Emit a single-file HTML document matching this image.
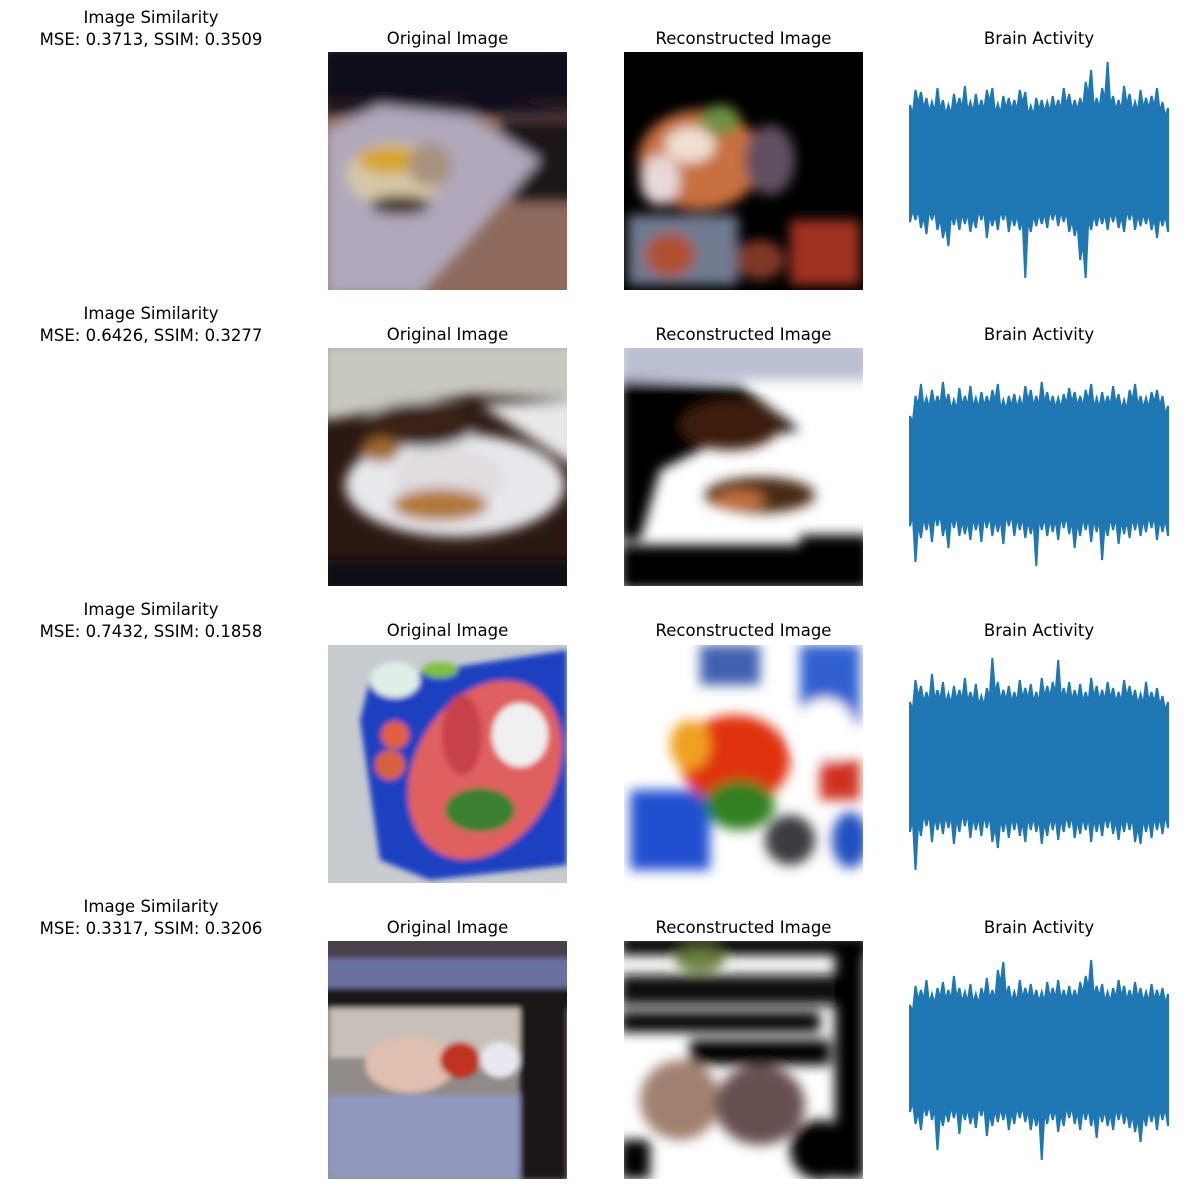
<!DOCTYPE html>
<html><head><meta charset="utf-8">
<style>
body{margin:0;background:#fff;}
#root{position:relative;width:1189px;height:1189px;font-family:"DejaVu Sans","Liberation Sans",sans-serif;color:#000;}
.t{position:absolute;font-size:16.5px;text-align:center;white-space:nowrap;line-height:22px;}
svg{position:absolute;left:0;top:0;}
</style></head>
<body>
<div id="root">
<svg id="svg" width="1189" height="1189">
<defs>
<filter id="b6" x="-20%" y="-20%" width="140%" height="140%"><feGaussianBlur stdDeviation="6"/></filter>
<filter id="b3"><feGaussianBlur stdDeviation="3"/></filter>
<clipPath id="c1"><rect x="328" y="52" width="239" height="238"/></clipPath>
<clipPath id="c2"><rect x="624" y="52" width="239" height="238"/></clipPath>
<clipPath id="c3"><rect x="328" y="348" width="239" height="238"/></clipPath>
<clipPath id="c4"><rect x="624" y="348" width="239" height="238"/></clipPath>
<clipPath id="c5"><rect x="328" y="645" width="239" height="238"/></clipPath>
<clipPath id="c6"><rect x="624" y="645" width="239" height="238"/></clipPath>
<clipPath id="c7"><rect x="328" y="941" width="239" height="238"/></clipPath>
<clipPath id="c8"><rect x="624" y="941" width="239" height="238"/></clipPath>
</defs>
<!-- Row 1 original -->
<g clip-path="url(#c1)">
<rect x="328" y="52" width="239" height="238" fill="#8f6a5c"/>
<g filter="url(#b6)">
<rect x="320" y="45" width="260" height="70" fill="#0a0d1c"/>
<polygon points="320,110 450,95 580,110 580,100 320,100" fill="#2a1c20"/>
<rect x="500" y="120" width="80" height="80" fill="#1a1214"/>
<polygon points="325,130 380,105 470,115 540,160 470,240 420,295 325,295" fill="#b0a8ba"/>
<ellipse cx="395" cy="175" rx="48" ry="32" fill="#d8c8a8"/>
<ellipse cx="390" cy="160" rx="32" ry="14" fill="#d6a62a"/>
<ellipse cx="430" cy="165" rx="22" ry="22" fill="#a89280"/>
<ellipse cx="400" cy="205" rx="30" ry="10" fill="#4a3a30"/>
</g></g>
<!-- Row 1 recon -->
<g clip-path="url(#c2)">
<rect x="624" y="52" width="239" height="238" fill="#000"/>
<g filter="url(#b6)">
<ellipse cx="700" cy="160" rx="62" ry="50" fill="#c87040"/>
<ellipse cx="690" cy="145" rx="25" ry="18" fill="#f0e0d0"/>
<ellipse cx="720" cy="120" rx="20" ry="15" fill="#709040"/>
<ellipse cx="660" cy="180" rx="20" ry="25" fill="#e8d8d8"/>
<rect x="628" y="215" width="110" height="70" fill="#707a90"/>
<ellipse cx="670" cy="255" rx="25" ry="22" fill="#b05030"/>
<ellipse cx="770" cy="160" rx="25" ry="35" fill="#605060"/>
<rect x="790" y="220" width="70" height="65" fill="#a03020"/>
<ellipse cx="760" cy="260" rx="25" ry="20" fill="#803828"/>
</g></g>
<!-- Row 2 original -->
<g clip-path="url(#c3)">
<rect x="328" y="348" width="239" height="238" fill="#2a1812"/>
<g filter="url(#b6)">
<polygon points="320,340 580,340 580,400 470,395 330,420 320,420" fill="#c8c8c0"/>
<polygon points="480,405 580,400 580,470" fill="#e8e8e8"/>
<ellipse cx="455" cy="485" rx="110" ry="52" fill="#e8e8ec"/>
<ellipse cx="420" cy="425" rx="55" ry="22" fill="#3a2018"/>
<ellipse cx="450" cy="478" rx="55" ry="30" fill="#e0dce0"/>
<ellipse cx="440" cy="505" rx="48" ry="16" fill="#b07838"/>
<ellipse cx="380" cy="450" rx="20" ry="12" fill="#a06a30"/>
<rect x="320" y="560" width="260" height="30" fill="#0a0c18"/>
</g></g>
<!-- Row 2 recon -->
<g clip-path="url(#c4)">
<rect x="624" y="348" width="239" height="238" fill="#fff"/>
<g filter="url(#b6)">
<rect x="620" y="340" width="250" height="40" fill="#b8c0d0"/>
<polygon points="620,380 740,385 800,430 720,440 660,470 640,540 620,540" fill="#000"/>
<ellipse cx="730" cy="425" rx="50" ry="25" fill="#3a1a10"/>
<ellipse cx="760" cy="495" rx="55" ry="18" fill="#4a2a18"/>
<ellipse cx="740" cy="500" rx="25" ry="10" fill="#c07040"/>
<rect x="620" y="545" width="250" height="45" fill="#000"/>
<rect x="800" y="535" width="70" height="20" fill="#000"/>
</g></g>
<!-- Row 3 original -->
<g clip-path="url(#c5)">
<rect x="328" y="645" width="239" height="238" fill="#c8ccd0"/>
<g filter="url(#b3)">
<polygon points="370,680 567,650 567,865 430,880 380,860 360,720" fill="#1a40c0"/>
<ellipse cx="485" cy="770" rx="70" ry="95" transform="rotate(30 485 770)" fill="#e06060"/>
<ellipse cx="520" cy="735" rx="28" ry="32" fill="#f0f0f0"/>
<ellipse cx="395" cy="735" rx="14" ry="14" fill="#e06040"/>
<ellipse cx="390" cy="765" rx="15" ry="15" fill="#d86040"/>
<ellipse cx="480" cy="810" rx="35" ry="22" fill="#3a8030"/>
<ellipse cx="462" cy="735" rx="20" ry="40" fill="#c84048"/>
<ellipse cx="395" cy="680" rx="25" ry="18" fill="#e0eee8"/>
<ellipse cx="440" cy="670" rx="18" ry="8" fill="#80c040"/>
</g></g>
<!-- Row 3 recon -->
<g clip-path="url(#c6)">
<rect x="624" y="645" width="239" height="238" fill="#fff"/>
<g filter="url(#b6)">
<rect x="630" y="790" width="80" height="80" fill="#2050d0"/>
<rect x="700" y="645" width="60" height="40" fill="#4060b0"/>
<rect x="800" y="645" width="60" height="80" fill="#3060d0"/>
<ellipse cx="735" cy="760" rx="55" ry="45" fill="#e03010"/>
<ellipse cx="690" cy="745" rx="20" ry="25" fill="#f0a020"/>
<ellipse cx="740" cy="805" rx="35" ry="25" fill="#308020"/>
<ellipse cx="825" cy="730" rx="30" ry="32" fill="#fff"/>
<rect x="820" y="760" width="40" height="40" fill="#d03020"/>
<ellipse cx="790" cy="840" rx="25" ry="25" fill="#3a3a40"/>
<ellipse cx="850" cy="840" rx="18" ry="28" fill="#2050c0"/>
</g></g>
<!-- Row 4 original -->
<g clip-path="url(#c7)">
<rect x="328" y="941" width="239" height="238" fill="#908a88"/>
<g filter="url(#b3)">
<rect x="320" y="935" width="260" height="25" fill="#4a4048"/>
<rect x="320" y="958" width="260" height="30" fill="#6a70a0"/>
<rect x="320" y="988" width="260" height="20" fill="#1a1416"/>
<rect x="330" y="1008" width="200" height="50" fill="#c8c0b8"/>
<ellipse cx="410" cy="1065" rx="45" ry="28" fill="#e0c0b0"/>
<ellipse cx="460" cy="1060" rx="20" ry="18" fill="#c03020"/>
<rect x="328" y="1095" width="200" height="84" fill="#9098c0"/>
<rect x="520" y="1000" width="47" height="180" fill="#1a1418"/>
<ellipse cx="500" cy="1060" rx="20" ry="18" fill="#e8e8f0"/>
</g></g>
<!-- Row 4 recon -->
<g clip-path="url(#c8)">
<rect x="624" y="941" width="239" height="238" fill="#fff"/>
<g filter="url(#b6)">
<rect x="620" y="935" width="250" height="20" fill="#000"/>
<rect x="620" y="975" width="220" height="30" fill="#101010"/>
<rect x="620" y="1012" width="200" height="20" fill="#000"/>
<rect x="690" y="1040" width="140" height="25" fill="#000"/>
<rect x="835" y="941" width="30" height="238" fill="#000"/>
<ellipse cx="680" cy="1100" rx="40" ry="40" fill="#a08070"/>
<ellipse cx="760" cy="1105" rx="45" ry="40" fill="#685050"/>
<rect x="620" y="1140" width="30" height="39" fill="#000"/>
<ellipse cx="820" cy="1150" rx="30" ry="30" fill="#000"/>
<ellipse cx="700" cy="960" rx="25" ry="12" fill="#6a8040"/>
</g></g>
<g id="plots"></g>
</svg>

<div class="t" style="left:11px;top:7px;width:280px;">Image Similarity<br>MSE: 0.3713, SSIM: 0.3509</div>
<div class="t" style="left:11px;top:303px;width:280px;">Image Similarity<br>MSE: 0.6426, SSIM: 0.3277</div>
<div class="t" style="left:11px;top:599px;width:280px;">Image Similarity<br>MSE: 0.7432, SSIM: 0.1858</div>
<div class="t" style="left:11px;top:896px;width:280px;">Image Similarity<br>MSE: 0.3317, SSIM: 0.3206</div>

<div class="t" style="left:328px;top:28px;width:239px;">Original Image</div>
<div class="t" style="left:624px;top:28px;width:239px;">Reconstructed Image</div>
<div class="t" style="left:910px;top:28px;width:258px;">Brain Activity</div>
<div class="t" style="left:328px;top:324px;width:239px;">Original Image</div>
<div class="t" style="left:624px;top:324px;width:239px;">Reconstructed Image</div>
<div class="t" style="left:910px;top:324px;width:258px;">Brain Activity</div>
<div class="t" style="left:328px;top:620px;width:239px;">Original Image</div>
<div class="t" style="left:624px;top:620px;width:239px;">Reconstructed Image</div>
<div class="t" style="left:910px;top:620px;width:258px;">Brain Activity</div>
<div class="t" style="left:328px;top:917px;width:239px;">Original Image</div>
<div class="t" style="left:624px;top:917px;width:239px;">Reconstructed Image</div>
<div class="t" style="left:910px;top:917px;width:258px;">Brain Activity</div>
</div>
<script>
// Envelope of brain activity signal (amplitude above / below baseline), per row
const top1 = [55,70,68,62,58,72,60,55,66,62,74,58,66,60,70,72,56,64,62,60,70,68,54,62,60,58,64,60,72,66,60,62,78,90,62,72,98,64,60,74,66,58,70,62,64,72,58,52];
const bot1 = [62,60,68,74,60,70,78,86,65,70,64,72,68,60,78,66,70,60,72,66,70,118,72,66,64,68,60,66,62,72,76,100,118,70,66,64,70,62,68,72,60,70,66,64,70,78,66,72];
const top2 = [40,60,72,58,66,60,74,62,56,68,60,70,58,64,60,66,72,56,60,62,58,70,66,60,74,64,60,58,62,68,64,60,66,72,58,64,60,70,62,56,66,72,60,58,64,66,60,50];
const bot2 = [70,106,82,74,86,70,80,92,72,80,78,84,74,86,72,80,76,88,70,80,74,82,78,110,74,80,76,84,72,78,92,80,74,86,76,104,80,74,88,78,82,74,80,76,72,84,76,80];
const top3 = [50,72,66,60,78,62,70,58,66,62,74,60,68,56,64,94,70,62,66,60,72,64,68,60,74,66,70,92,64,70,62,68,60,74,66,62,70,64,60,72,66,62,58,70,60,64,56,50];
const bot3 = [80,118,84,74,90,78,82,76,92,80,74,86,78,84,76,90,96,80,86,78,84,90,78,80,92,84,78,88,80,76,86,82,78,90,80,84,76,82,88,80,78,90,92,80,86,78,82,76];
const top4 = [45,64,60,70,56,62,68,60,74,62,58,66,56,62,72,60,80,88,64,58,70,62,66,60,58,68,62,70,60,64,60,68,74,90,64,66,58,62,70,64,60,68,62,58,66,60,62,56];
const bot4 = [62,74,80,66,70,100,76,72,68,84,70,74,78,66,86,76,72,70,80,74,68,72,80,76,110,74,70,82,76,68,74,80,70,76,88,72,76,80,70,74,78,82,92,76,72,80,70,76];
const tops=[top1,top2,top3,top4], bots=[bot1,bot2,bot3,bot4];
const centers=[160,456,752,1050];
const xL=910, xR=1168;
function xScale(i,n){return xL+(xR-xL)*i/(n-1);}
function yScale(row,v){return centers[row]-v;}
const g=document.getElementById('plots');
const NS='http://www.w3.org/2000/svg';
for(let r=0;r<4;r++){
  const T=tops[r],B=bots[r],n=T.length;
  const pts=[];
  for(let i=0;i<n;i++){
    const x=xScale(i,n);
    pts.push(x+','+yScale(r,T[i]));
    if(i<n-1){const xm=(x+xScale(i+1,n))/2; pts.push(xm+','+yScale(r,Math.min(T[i],T[i+1])*0.82));}
  }
  for(let i=n-1;i>=0;i--){
    const x=xScale(i,n);
    pts.push(x+','+yScale(r,-B[i]));
    if(i>0){const xm=(x+xScale(i-1,n))/2; pts.push(xm+','+yScale(r,-Math.min(B[i],B[i-1])*0.82));}
  }
  const p=document.createElementNS(NS,'polygon');
  p.setAttribute('points',pts.join(' '));
  p.setAttribute('fill','#1f77b4');
  p.setAttribute('stroke','#1f77b4');
  p.setAttribute('stroke-width','2');
  p.setAttribute('stroke-linejoin','miter');
  
  
  g.appendChild(p);
}
</script>
</body></html>
